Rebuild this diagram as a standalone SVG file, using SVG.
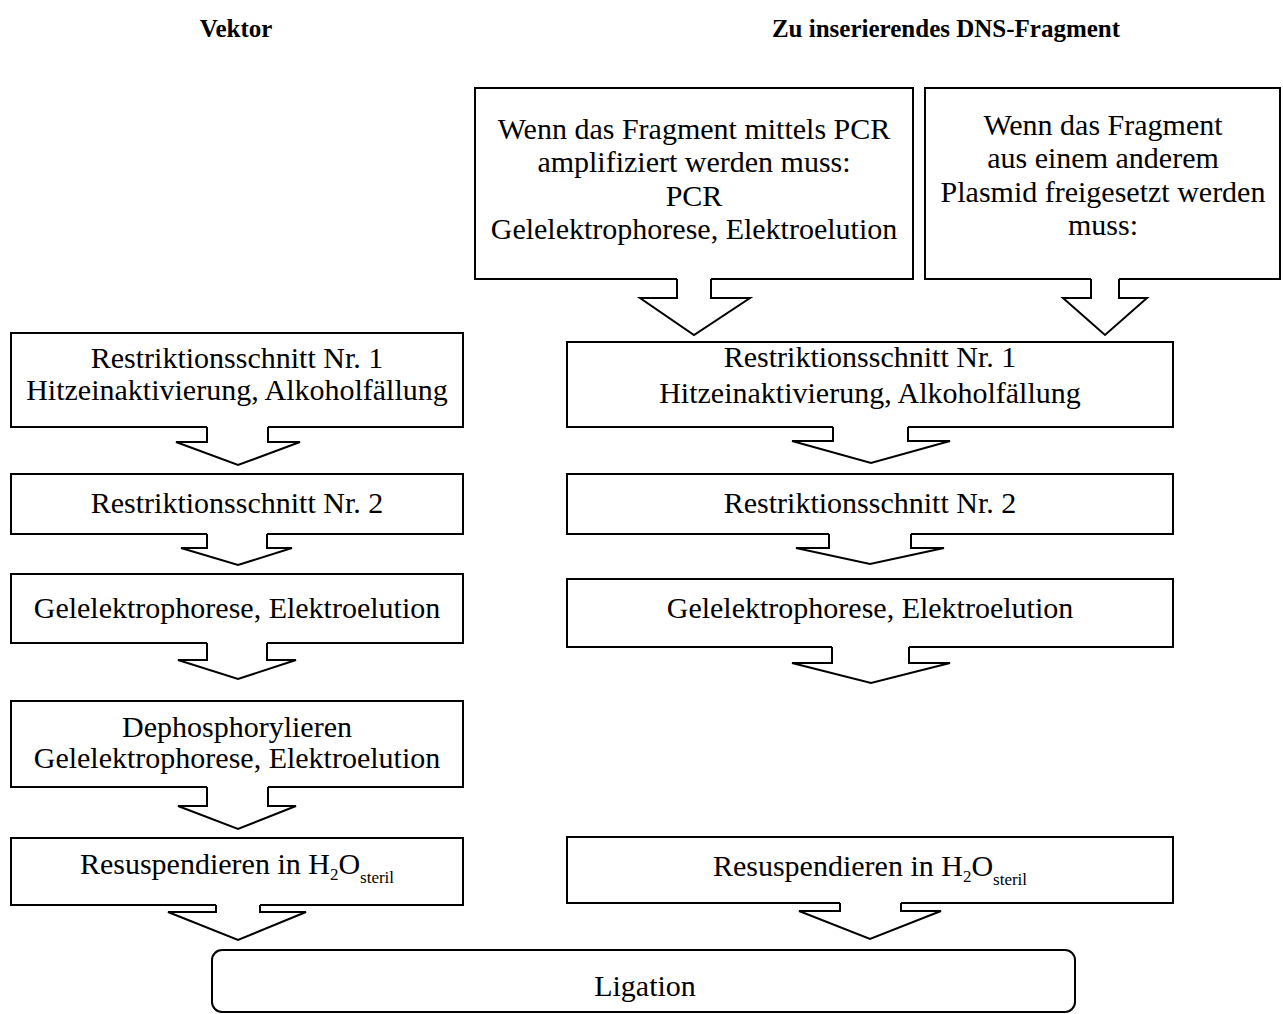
<svg xmlns="http://www.w3.org/2000/svg" width="1283" height="1014" viewBox="0 0 1283 1014">
  <style>
    .outline { fill: #ffffff; stroke: #000000; stroke-width: 2; stroke-linejoin: miter; }
    .edge { fill: none; stroke: #000000; stroke-width: 2; stroke-linejoin: miter; }
    .arrow { fill: #ffffff; stroke: #000000; stroke-width: 2; stroke-linejoin: miter; }
    .bg { fill: #ffffff; stroke: none; }
    .lbl { font-family: "Liberation Serif", "DejaVu Serif", serif; font-size: 30px; fill: #000000; text-anchor: middle; }
    .head { font-family: "Liberation Serif", "DejaVu Serif", serif; font-size: 25px; font-weight: bold; fill: #000000; text-anchor: middle; }
    .sub { font-size: 17px; }
  </style>

  <rect x="0" y="0" width="1283" height="1014" fill="#ffffff"/>

  <!-- column headings -->
  <g id="heading-vektor">
    <text class="head" x="236" y="37">Vektor</text>
  </g>
  <g id="heading-fragment">
    <text class="head" x="946" y="37">Zu inserierendes DNS-Fragment</text>
  </g>

  <!-- step boxes: white fill plus an outline left open where the arrow stem leaves -->
  <g id="pcr-option">
    <rect class="bg" x="475" y="88" width="438" height="191"/>
    <path class="edge" d="M677 279 H475 V88 H913 V279 H711"/>
    <text class="lbl" x="694" y="139">Wenn das Fragment mittels PCR</text>
    <text class="lbl" x="694" y="172">amplifiziert werden muss:</text>
    <text class="lbl" x="694" y="206">PCR</text>
    <text class="lbl" x="694" y="239">Gelelektrophorese, Elektroelution</text>
  </g>

  <g id="plasmid-option">
    <rect class="bg" x="925" y="88" width="355" height="191"/>
    <path class="edge" d="M1091 279 H925 V88 H1280 V279 H1119"/>
    <text class="lbl" x="1103" y="135">Wenn das Fragment</text>
    <text class="lbl" x="1103" y="168">aus einem anderem</text>
    <text class="lbl" x="1103" y="202">Plasmid freigesetzt werden</text>
    <text class="lbl" x="1103" y="235">muss:</text>
  </g>

  <g id="vektor-restriktion-1">
    <rect class="bg" x="11" y="333" width="452" height="94"/>
    <path class="edge" d="M207 427 H11 V333 H463 V427 H268"/>
    <text class="lbl" x="237" y="368">Restriktionsschnitt Nr. 1</text>
    <text class="lbl" x="237" y="400">Hitzeinaktivierung, Alkoholfällung</text>
  </g>

  <g id="vektor-restriktion-2">
    <rect class="bg" x="11" y="474" width="452" height="60"/>
    <path class="edge" d="M207 534 H11 V474 H463 V534 H267"/>
    <text class="lbl" x="237" y="513">Restriktionsschnitt Nr. 2</text>
  </g>

  <g id="vektor-gel">
    <rect class="bg" x="11" y="574" width="452" height="69"/>
    <path class="edge" d="M207 643 H11 V574 H463 V643 H267"/>
    <text class="lbl" x="237" y="618">Gelelektrophorese, Elektroelution</text>
  </g>

  <g id="vektor-dephosphorylierung">
    <rect class="bg" x="11" y="701" width="452" height="86"/>
    <path class="edge" d="M207 787 H11 V701 H463 V787 H268"/>
    <text class="lbl" x="237" y="737">Dephosphorylieren</text>
    <text class="lbl" x="237" y="768">Gelelektrophorese, Elektroelution</text>
  </g>

  <g id="vektor-resuspension">
    <rect class="bg" x="11" y="838" width="452" height="67"/>
    <path class="edge" d="M216 905 H11 V838 H463 V905 H260"/>
    <text class="lbl" x="237" y="874">Resuspendieren in H<tspan class="sub" dy="6">2</tspan><tspan dy="-6">O</tspan><tspan class="sub" dy="9">steril</tspan></text>
  </g>

  <g id="fragment-restriktion-1">
    <rect class="bg" x="567" y="342" width="606" height="85"/>
    <path class="edge" d="M833 427 H567 V342 H1173 V427 H908"/>
    <text class="lbl" x="870" y="367">Restriktionsschnitt Nr. 1</text>
    <text class="lbl" x="870" y="403">Hitzeinaktivierung, Alkoholfällung</text>
  </g>

  <g id="fragment-restriktion-2">
    <rect class="bg" x="567" y="474" width="606" height="60"/>
    <path class="edge" d="M829 534 H567 V474 H1173 V534 H911"/>
    <text class="lbl" x="870" y="513">Restriktionsschnitt Nr. 2</text>
  </g>

  <g id="fragment-gel">
    <rect class="bg" x="567" y="579" width="606" height="68"/>
    <path class="edge" d="M832 647 H567 V579 H1173 V647 H909"/>
    <text class="lbl" x="870" y="618">Gelelektrophorese, Elektroelution</text>
  </g>

  <g id="fragment-resuspension">
    <rect class="bg" x="567" y="837" width="606" height="66"/>
    <path class="edge" d="M840 903 H567 V837 H1173 V903 H901"/>
    <text class="lbl" x="870" y="876">Resuspendieren in H<tspan class="sub" dy="6">2</tspan><tspan dy="-6">O</tspan><tspan class="sub" dy="9">steril</tspan></text>
  </g>

  <g id="ligation">
    <rect class="outline" x="212" y="950" width="863" height="62" rx="10" ry="10"/>
    <text class="lbl" x="645" y="996">Ligation</text>
  </g>

  <!-- block arrows leaving each step box -->
  <g id="connectors">
    <path class="arrow" d="M677 279 V298 H640 L694 335 L750 298 H711 V279"/>
    <path class="arrow" d="M1091 279 V298 H1063 L1105 335 L1147 298 H1119 V279"/>

    <path class="arrow" d="M207 427 V442 H176 L238 465 L300 442 H268 V427"/>
    <path class="arrow" d="M207 534 V548 H181 L238 565 L292 548 H267 V534"/>
    <path class="arrow" d="M207 643 V660 H178 L238 679 L296 660 H267 V643"/>
    <path class="arrow" d="M207 787 V806 H178 L238 829 L296 806 H268 V787"/>
    <path class="arrow" d="M216 905 V912 H168 L238 940 L306 912 H260 V905"/>

    <path class="arrow" d="M833 427 V441 H792 L871 463 L950 441 H908 V427"/>
    <path class="arrow" d="M829 534 V548 H796 L870 564 L944 548 H911 V534"/>
    <path class="arrow" d="M832 647 V663 H792 L871 683 L950 663 H909 V647"/>
    <path class="arrow" d="M840 903 V911 H799 L870 939 L941 911 H901 V903"/>
  </g>
</svg>
